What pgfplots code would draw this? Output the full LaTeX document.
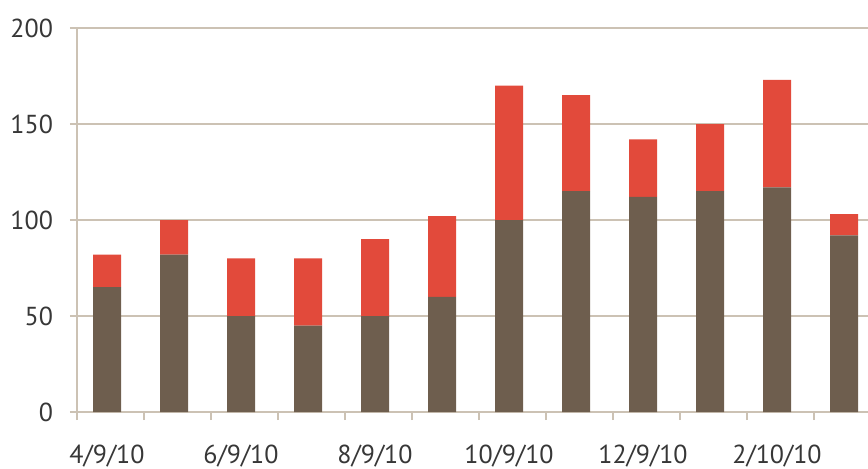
\documentclass[border=0pt]{standalone}
\usepackage{fontspec}
\setmainfont{PT Sans}
\usepackage{pgfplots}
\pgfplotsset{compat=1.18}

\definecolor{barbrown}{RGB}{110,94,78}
\definecolor{barred}{RGB}{226,74,59}
\definecolor{gridtan}{RGB}{204,194,180}
\definecolor{labelgray}{RGB}{55,55,55}

\begin{document}
\begin{tikzpicture}
\begin{axis}[
    at={(0,0)}, anchor=south west,
    scale only axis,
    width=395.5pt, height=192pt,
    ybar stacked,
    bar width=14pt,
    xmin=-0.448, xmax=11.358,
    ymin=0, ymax=200,
    ytick={0,50,100,150,200},
    xtick={0,2,4,6,8,10},
    xticklabels={4/9/10,6/9/10,8/9/10,10/9/10,12/9/10,2/10/10},
    minor xtick={-0.448,0.552,1.552,2.552,3.552,4.552,5.552,6.552,7.552,8.552,9.552,10.552},
    axis lines*=left,
    axis line style={gridtan, line width=1.1pt},
    tick align=outside,
    major tick length=3.5pt,
    minor tick length=4pt,
    major x tick style={draw=none},
    every tick/.style={gridtan, line width=1.1pt},
    ymajorgrids,
    grid style={gridtan, line width=1.1pt},
    tick label style={font=\fontsize{13}{15}\selectfont, text=labelgray},
    yticklabel style={xshift=-5pt},
    xticklabel style={yshift=-9.5pt},
    /pgf/number format/assume math mode=true,
]
\addplot[fill=barbrown, draw=none] coordinates {
  (0,65) (1,82) (2,50) (3,45) (4,50) (5,60)
  (6,100) (7,115) (8,112) (9,115) (10,117) (11,92)
};
\addplot[fill=barred, draw=none] coordinates {
  (0,17) (1,18) (2,30) (3,35) (4,40) (5,42)
  (6,70) (7,50) (8,30) (9,35) (10,56) (11,11)
};
\end{axis}
\pgfresetboundingbox
\useasboundingbox (-38.5pt,-28pt) rectangle (395.5pt,206pt);
\end{tikzpicture}
\end{document}
